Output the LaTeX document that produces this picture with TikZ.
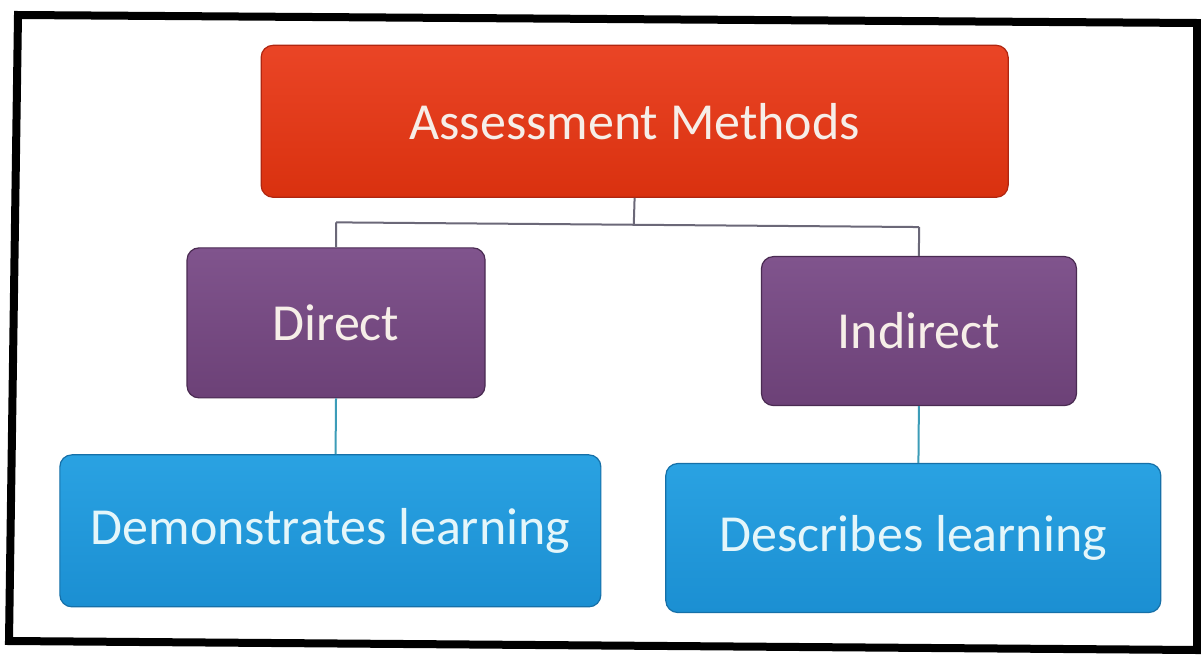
\documentclass[tikz,border=0pt]{standalone}
\usepackage{fontspec}
\setmainfont{Carlito}
\definecolor{redtop}{HTML}{EA4526}
\definecolor{redbot}{HTML}{D9310F}
\definecolor{rededge}{HTML}{B02610}
\definecolor{purtop}{HTML}{80548D}
\definecolor{purbot}{HTML}{6C4177}
\definecolor{puredge}{HTML}{4A2B52}
\definecolor{blutop}{HTML}{2AA2E2}
\definecolor{blubot}{HTML}{1B8FD2}
\definecolor{bluedge}{HTML}{1670A8}
\definecolor{txtwarm}{HTML}{F6EEE8}
\definecolor{txtcool}{HTML}{E4F6FA}
\definecolor{linegray}{HTML}{6B6878}
\definecolor{lineblue}{HTML}{3C9CB8}
\tikzset{
  boxbase/.style={rectangle, rounded corners=12pt, inner sep=0pt, font=\fontsize{52}{60}\selectfont, line width=1.2pt},
  redbox/.style={boxbase, top color=redtop, bottom color=redbot, draw=rededge, text=txtwarm},
  purbox/.style={boxbase, top color=purtop, bottom color=purbot, draw=puredge, text=txtwarm},
  blubox/.style={boxbase, top color=blutop, bottom color=blubot, draw=bluedge, text=txtcool},
  conngray/.style={draw=linegray, line width=2pt},
  connblue/.style={draw=lineblue, line width=2pt},
}
\begin{document}
\begin{tikzpicture}[x=1pt,y=-1pt]
\useasboundingbox (0,0) rectangle (1201,654);
\fill[white] (0,0) rectangle (1201,654);
\begin{scope}[rotate around={-0.46:(600,327)}]
\node[redbox, minimum width=747pt, minimum height=152pt] (top) at (633,121) {Assessment Methods};
\node[purbox, minimum width=298pt, minimum height=150pt] (dir) at (336,325) {Direct};
\node[purbox, minimum width=315pt, minimum height=149pt] (ind) at (919,328.5) {Indirect};
\node[blubox, minimum width=541pt, minimum height=152pt] (dem) at (332,533) {Demonstrates learning};
\node[blubox, minimum width=495pt, minimum height=149pt] (des) at (915,535.5) {Describes learning};
\coordinate (hub) at (633,224.5);
\draw[conngray] (top.south) -- (hub);
\draw[conngray] (hub -| dir.north) -- (hub -| ind.north);
\draw[conngray] (hub -| dir.north) -- (dir.north);
\draw[conngray] (hub -| ind.north) -- (ind.north);
\draw[connblue] (dir.south) -- (dir.south |- dem.north);
\draw[connblue] (ind.south) -- (ind.south |- des.north);
\end{scope}
\draw[black, line width=8pt, line join=miter] (18,15) -- (1197,23) -- (1197,650) -- (9,641) -- cycle;
\end{tikzpicture}
\end{document}
